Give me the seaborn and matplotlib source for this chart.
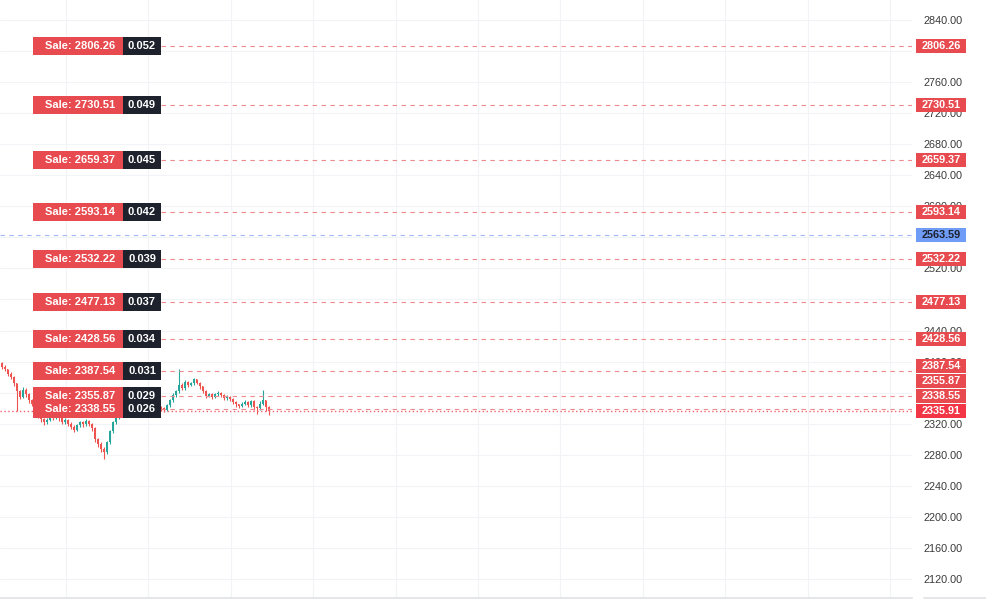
import numpy as np
import pandas as pd
import seaborn as sns
import matplotlib.pyplot as plt
import matplotlib.transforms as mtransforms
from matplotlib.patches import Rectangle

# candle data
closes = [2393, 2390, 2384, 2380, 2372, 2362,
          2355, 2364, 2358, 2350, 2346,
          2338, 2330, 2326, 2322, 2325,
          2330, 2328, 2333, 2327, 2322, 2325, 2320,
          2316, 2312, 2318, 2322, 2319, 2324, 2320, 2314,
          2300, 2294, 2288, 2283, 2296,
          2310, 2322, 2328, 2333, 2336,
          2340, 2343, 2338, 2341, 2345, 2342, 2339, 2343, 2346, 2341, 2338, 2342, 2340,
          2338, 2344, 2350, 2357, 2362,
          2370, 2366, 2374, 2370,
          2372, 2377, 2373, 2368,
          2362, 2356, 2358, 2355,
          2358, 2360, 2357, 2353,
          2355, 2352, 2348, 2345,
          2343, 2346, 2348, 2344, 2349,
          2342, 2340, 2346, 2350, 2342, 2335.91]
first_open = 2398
highs = [2400, 2395, 2391, 2386, 2381, 2373, 2364, 2367, 2366, 2359,
         2352, 2347, 2340, 2332, 2328, 2327, 2332, 2333, 2335, 2334,
         2329, 2327, 2326, 2322, 2318, 2320, 2324, 2324, 2326, 2325,
         2321, 2316, 2302, 2296, 2290, 2298, 2312, 2324, 2330, 2335,
         2338, 2342, 2345, 2344, 2343, 2347, 2346, 2343, 2345, 2348,
         2347, 2342, 2344, 2343, 2341, 2346, 2352, 2359, 2364, 2390,
         2372, 2376, 2375, 2374, 2379, 2378, 2374, 2369, 2363, 2360,
         2359, 2360, 2362, 2361, 2358, 2357, 2356, 2353, 2349, 2346,
         2348, 2350, 2349, 2351, 2350, 2343, 2349, 2363, 2351, 2343]
lows = [2391, 2388, 2382, 2377, 2369, 2337, 2352, 2353, 2355, 2347,
        2343, 2335, 2327, 2322, 2318, 2319, 2323, 2325, 2326, 2324,
        2319, 2320, 2317, 2313, 2309, 2310, 2316, 2316, 2317, 2317,
        2311, 2297, 2290, 2284, 2275, 2281, 2294, 2308, 2320, 2326,
        2331, 2334, 2338, 2336, 2336, 2339, 2340, 2337, 2337, 2341,
        2339, 2336, 2336, 2337, 2335, 2336, 2342, 2348, 2355, 2360,
        2363, 2364, 2367, 2368, 2370, 2371, 2365, 2359, 2353, 2354,
        2352, 2353, 2356, 2355, 2350, 2351, 2349, 2345, 2342, 2340,
        2341, 2344, 2341, 2342, 2338, 2333, 2338, 2344, 2336, 2331]

# order levels
sale_prices = [2806.26, 2730.51, 2659.37, 2593.14, 2532.22,
               2477.13, 2428.56, 2387.54, 2355.87, 2338.55]
sale_sizes = ["0.052", "0.049", "0.045", "0.042", "0.039",
              "0.037", "0.034", "0.031", "0.029", "0.026"]
avg_price = 2563.59
last_price = 2335.91
y_ticks = list(range(2120, 2841, 40))
# tick labels fully covered by the price labels are not shown
hidden_ticks = [2800, 2560, 2480, 2360]

UP = "#26a69a"
DOWN = "#ef5350"
SALE_RED = "#e84b4f"
LAST_RED = "#f23645"
DARK = "#1e222d"
BLUE = "#6e9cf7"

sns.set_theme(style="white")
plt.rcParams["font.family"] = ["Liberation Sans", "DejaVu Sans"]

W, H = 986, 601
AX_W = 912
fig = plt.figure(figsize=(W / 100, H / 100), dpi=100)
ax = fig.add_axes([0, 3 / H, AX_W / W, 598 / H])

# 0.7764 px per price unit, 2840 sits 20 px below top
ppu = 559 / 720
ax.set_ylim(2120 - 19 / ppu, 2840 + 20 / ppu)
ax.set_xlim(-0.5, AX_W / 3 - 0.5)

df = pd.DataFrame({"close": closes, "high": highs, "low": lows})
df["open"] = [first_open] + closes[:-1]
df["idx"] = np.arange(len(df))
df["color"] = np.where(df["close"] >= df["open"], UP, DOWN)

ax.vlines(df["idx"], df["low"], df["high"], colors=df["color"], lw=0.8, zorder=2)
ax.bar(df["idx"], (df["close"] - df["open"]).abs().clip(lower=0.8),
       bottom=df[["open", "close"]].min(axis=1), width=0.65,
       color=df["color"], linewidth=0, zorder=2)

# grid
ax.set_yticks(y_ticks)
ax.set_yticklabels(["" if t in hidden_ticks else f"{t:.2f}" for t in y_ticks])
ax.set_xticks([(66 + 82.4 * k) / 3 - 0.5 for k in range(11)])
ax.set_xticklabels([])
ax.grid(True, color="#f2f3f6", lw=0.8)
ax.yaxis.tick_right()
ax.tick_params(axis="y", length=0, pad=8, labelsize=7.8, labelcolor="#3a3a3a")
ax.tick_params(axis="x", length=0)
for s in ["top", "left", "right"]:
    ax.spines[s].set_visible(False)
ax.spines["bottom"].set_color("#dfe1e6")
ax.spines["bottom"].set_linewidth(1.2)
fig.add_artist(plt.Line2D([AX_W / W + 0.012, 1], [3 / H, 3 / H], color="#dfe1e6",
                          lw=1.2, transform=fig.transFigure))

trans = mtransforms.blended_transform_factory(ax.transAxes, ax.transData)
px = lambda p: p / AX_W

# horizontal lines
for p in sale_prices:
    ax.axhline(p, xmin=px(161), xmax=1, color="#ee8a8d", lw=0.8,
               ls=(0, (4, 4)), zorder=3)
ax.axhline(avg_price, color="#a3b8f5", lw=0.8, ls=(0, (4, 4)), zorder=3)
ax.axhline(last_price, color="#f06472", lw=1.0, ls=(0, (1, 1.8)), zorder=3)

# left order labels
box_h = 18 / ppu
for p, s in zip(sale_prices, sale_sizes):
    ax.add_patch(Rectangle((px(33), p - box_h / 2), px(90), box_h, transform=trans,
                           facecolor=SALE_RED, edgecolor="none",
                           clip_on=False, zorder=5))
    ax.add_patch(Rectangle((px(123), p - box_h / 2), px(38), box_h, transform=trans,
                           facecolor=DARK, edgecolor="none",
                           clip_on=False, zorder=5))
    ax.text(px(80), p, f"Sale: {p:.2f}", transform=trans, ha="center", va="center",
            color="white", fontsize=8, fontweight="bold", zorder=6)
    ax.text(px(142), p, s, transform=trans, ha="center", va="center",
            color="white", fontsize=8, fontweight="bold", zorder=6)

# right price labels, pushed apart so they do not overlap
right_labels = [(p, SALE_RED, "white") for p in sale_prices]
right_labels += [(avg_price, BLUE, "#1e222d"), (last_price, LAST_RED, "white")]
right_labels.sort(key=lambda r: r[0])
lab_h = 15 / ppu
prev = None
for p, fc, tc in right_labels:
    y = p if prev is None else max(p, prev + lab_h)
    prev = y
    ax.add_patch(Rectangle((px(916), y - 14 / ppu / 2), px(50), 14 / ppu, transform=trans,
                           facecolor=fc, edgecolor="none", clip_on=False, zorder=5))
    ax.text(px(941), y, f"{p:.2f}", transform=trans, ha="center", va="center",
            color=tc, fontsize=7.8, fontweight="bold", zorder=6)

fig.savefig("out.png", dpi=100, facecolor="white")
